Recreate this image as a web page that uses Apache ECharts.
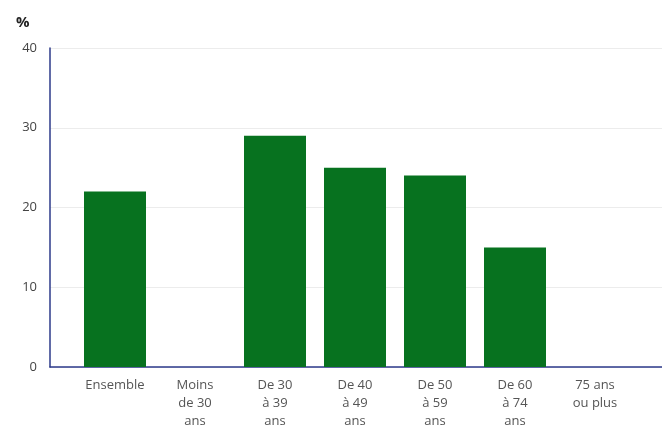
<!DOCTYPE html>
<html><head><meta charset="utf-8">
<script src="https://cdn.jsdelivr.net/npm/echarts@6/dist/echarts.min.js"></script>
<style>html,body{margin:0;padding:0;background:#fff}#c{width:662px;height:425px}</style>
</head><body><div id="c"></div>
<script>
const categories = ["Ensemble", "Moins\nde 30\nans", "De 30\nà 39\nans", "De 40\nà 49\nans", "De 50\nà 59\nans", "De 60\nà 74\nans", "75 ans\nou plus"];
const values = [22, null, 29, 25, 24, 15, null];
const yTicks = { min: 0, max: 40, interval: 10 };

const chart = echarts.init(document.getElementById('c'), null, { renderer: 'canvas' });
const font = '"Open Sans", "Noto Sans", sans-serif';
chart.setOption({
  animation: false,
  backgroundColor: '#fff',
  textStyle: { fontFamily: font },
  title: { text: '%', left: 11, top: 10, textStyle: { fontSize: 15, fontWeight: 'bold', color: '#222', fontFamily: font } },
  grid: [
    { left: 75, right: 27, top: 48, bottom: 58, outerBoundsMode: 'none', containLabel: false },
    { left: 50, right: 0, top: 48, bottom: 58, outerBoundsMode: 'none', containLabel: false }
  ],
  xAxis: [
    { type: 'category', gridIndex: 0, data: categories,
      axisLine: { show: false }, axisTick: { show: false },
      axisLabel: { color: '#555', fontSize: 13, lineHeight: 18, margin: 9, interval: 0, fontFamily: font } },
    { type: 'value', gridIndex: 1, min: 0, max: 1, show: true,
      axisLine: { show: true, onZero: false, lineStyle: { color: '#2d3a8a', width: 1.5 } },
      axisTick: { show: false }, axisLabel: { show: false }, splitLine: { show: false } }
  ],
  yAxis: [
    { type: 'value', gridIndex: 0, min: yTicks.min, max: yTicks.max, interval: yTicks.interval, show: false },
    { type: 'value', gridIndex: 1, min: yTicks.min, max: yTicks.max, interval: yTicks.interval,
      axisLine: { show: true, lineStyle: { color: '#2d3a8a', width: 1.5 } },
      axisTick: { show: false },
      axisLabel: { color: '#444', fontSize: 13, margin: 13, fontFamily: font },
      splitLine: { show: true, lineStyle: { color: '#ececec', width: 1 } } }
  ],
  series: [{
    type: 'bar', xAxisIndex: 0, yAxisIndex: 0, data: values,
    barWidth: 62, itemStyle: { color: '#07721f' }
  }]
});
</script></body></html>
